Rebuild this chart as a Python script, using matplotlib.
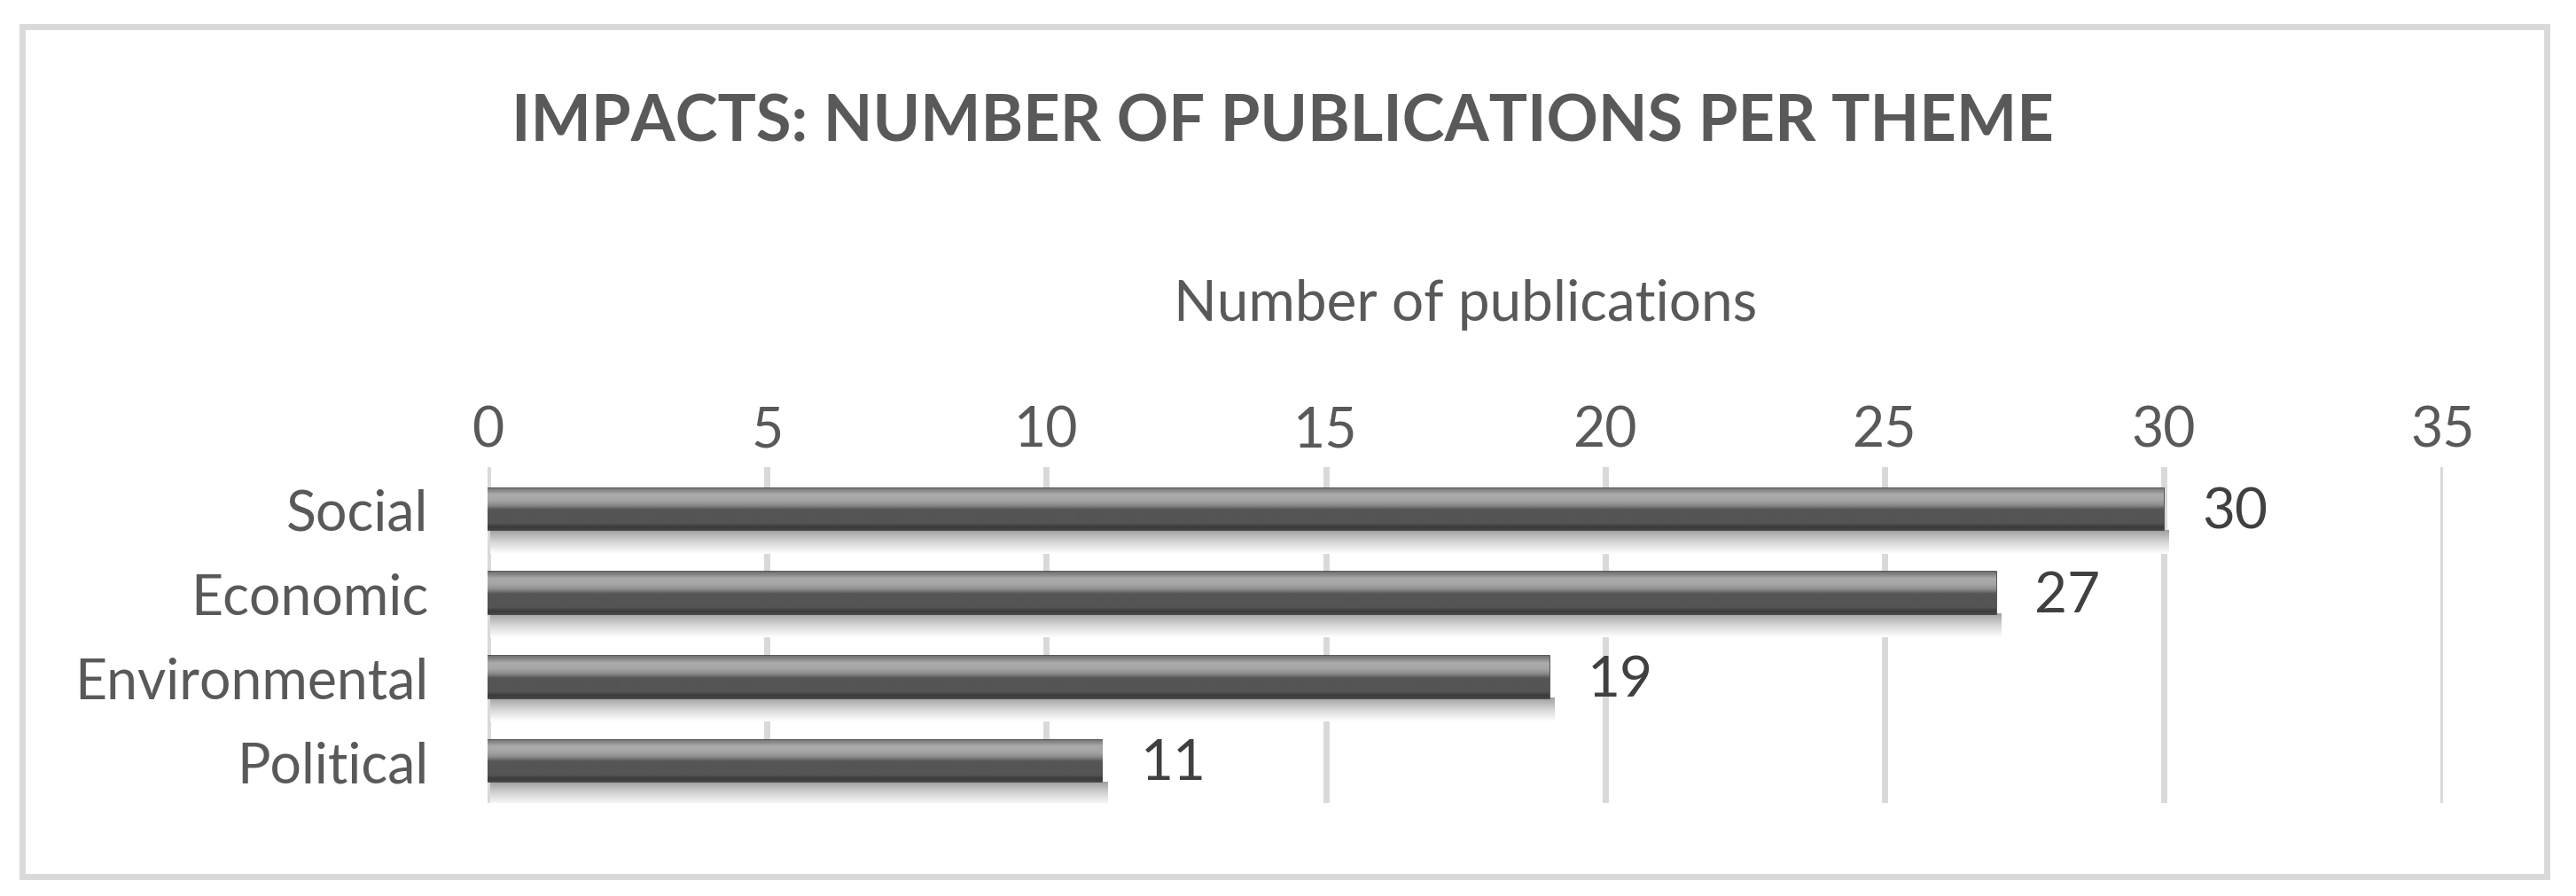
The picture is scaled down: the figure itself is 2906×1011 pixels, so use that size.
import numpy as np
import matplotlib
matplotlib.use("Agg")
import matplotlib.pyplot as plt
from matplotlib.colors import LinearSegmentedColormap
from matplotlib.patches import Rectangle

# datos del grafico
temas = ["Social", "Economic", "Environmental", "Political"]
publicaciones = [30, 27, 19, 11]
ticks_x = [0, 5, 10, 15, 20, 25, 30, 35]

gris_texto = "#595959"
gris_linea = "#d9d9d9"
plt.rcParams["font.family"] = ["Lato", "DejaVu Sans"]

fig = plt.figure(figsize=(29.06, 10.12), dpi=100)
ax = fig.add_axes([0.1893, 0.1038, 0.9484 - 0.1893, 0.4783 - 0.1038])

# marco exterior
fig.patches.append(Rectangle((25 / 2906, 1 - 990 / 1012), (2873 - 25) / 2906, (990 - 31) / 1012,
                             transform=fig.transFigure, fill=False, edgecolor=gris_linea, linewidth=5))

y = np.arange(len(temas))
alto = 0.5
barras = ax.barh(y, publicaciones, height=alto, color="#555555", edgecolor="#3c3c3c", linewidth=1.2, zorder=3)

# degradado tipo cilindro dentro de cada barra
degradado = LinearSegmentedColormap.from_list("cil", [
    (0.0, "#707070"), (0.08, "#8c8c8c"), (0.16, "#ababab"), (0.30, "#a6a6a6"),
    (0.42, "#8a8a8a"), (0.52, "#555555"), (0.84, "#555555"), (0.93, "#3a3a3a"), (1.0, "#454545")])
sombra = LinearSegmentedColormap.from_list("sombra", [(0.0, "#a0a0a0"), (0.5, "#d6d6d6"), (1.0, "#ffffff")])
grad = np.linspace(0, 1, 256).reshape(-1, 1)
for b, v in zip(barras, publicaciones):
    yb = b.get_y()
    im = ax.imshow(grad, cmap=degradado, aspect="auto", extent=[0, v, yb + alto, yb],
                   zorder=4, interpolation="bicubic")
    im.set_clip_path(b)
    # sombra debajo de la barra
    ax.imshow(grad, cmap=sombra, aspect="auto", extent=[0.05, v + 0.1, yb + alto + 0.28, yb + alto],
              zorder=2, interpolation="bicubic")
    ax.text(v + 0.68, yb + alto / 2 + 0.03, str(v), va="center", ha="left", fontsize=46,
            color="#404040", zorder=5)

ax.set_xlim(0, 35)
ax.set_ylim(len(temas) - 0.5, -0.5)
ax.set_yticks(y)
ax.set_yticklabels(temas)
ax.set_xticks(ticks_x)
ax.xaxis.tick_top()
ax.xaxis.set_label_position("top")
ax.set_xlabel("Number of publications", fontsize=46, color=gris_texto, labelpad=69)
ax.tick_params(axis="x", length=0, pad=9, labelsize=45, labelcolor=gris_texto)
ax.tick_params(axis="y", length=0, pad=48, labelsize=45, labelcolor=gris_texto)
ax.grid(axis="x", color=gris_linea, linewidth=5, zorder=0)
ax.set_axisbelow(True)
for s in ax.spines.values():
    s.set_visible(False)

fig.text(0.498, 0.863, "IMPACTS: NUMBER OF PUBLICATIONS PER THEME", ha="center", va="center",
         fontsize=52, fontweight="bold", color=gris_texto)

fig.savefig("out.png", dpi=100, facecolor="white")
